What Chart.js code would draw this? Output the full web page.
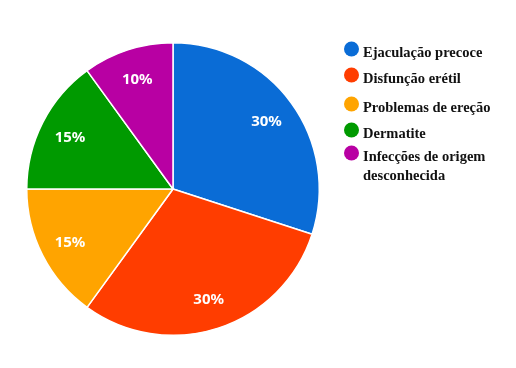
<!DOCTYPE html>
<html>
<head>
<meta charset="utf-8">
<script src="https://cdn.jsdelivr.net/npm/chart.js@4/dist/chart.umd.min.js"></script>
<style>
html,body{margin:0;padding:0;background:#fff;}
#wrap{width:516px;height:368px;position:relative;}
</style>
</head>
<body>
<div id="wrap"><canvas id="c" width="516" height="368"></canvas></div>
<script>
const categories = ["Ejaculação precoce", "Disfunção erétil", "Problemas de ereção", "Dermatite", "Infecções de origem desconhecida"];
const legendLines = [["Ejaculação precoce"], ["Disfunção erétil"], ["Problemas de ereção"], ["Dermatite"], ["Infecções de origem", "desconhecida"]];
const values = [30, 30, 15, 15, 10];
const colors = ["#0a6cd6", "#ff3d00", "#ffa400", "#009a00", "#b800a3"];

const labelPlugin = {
  id: 'sliceLabels',
  afterDatasetsDraw(chart) {
    const ctx = chart.ctx;
    const meta = chart.getDatasetMeta(0);
    const total = values.reduce((a, b) => a + b, 0);
    ctx.save();
    ctx.font = 'bold 15px "Noto Sans", "Open Sans", sans-serif';
    ctx.fillStyle = '#fff';
    ctx.textAlign = 'center';
    ctx.textBaseline = 'middle';
    meta.data.forEach((arc, i) => {
      const mid = (arc.startAngle + arc.endAngle) / 2;
      const r = arc.outerRadius * 0.79;
      const x = arc.x + Math.cos(mid) * r;
      const y = arc.y + Math.sin(mid) * r + 1;
      ctx.fillText(Math.round(values[i] / total * 100) + '%', x, y);
    });
    ctx.restore();
  }
};

const legendPlugin = {
  id: 'sideLegend',
  afterDraw(chart) {
    const ctx = chart.ctx;
    const ys = [49, 75, 104, 130, 153];
    ctx.save();
    ctx.font = 'bold 14.5px "Liberation Serif", "Times New Roman", serif';
    ctx.textBaseline = 'middle';
    ctx.textAlign = 'left';
    legendLines.forEach((lines, i) => {
      ctx.beginPath();
      ctx.fillStyle = colors[i];
      ctx.arc(351.5, ys[i], 7.5, 0, Math.PI * 2);
      ctx.fill();
      ctx.fillStyle = '#111';
      lines.forEach((t, j) => {
        ctx.fillText(t, 363, ys[i] + 4 + j * 19);
      });
    });
    ctx.restore();
  }
};

new Chart(document.getElementById('c'), {
  type: 'pie',
  data: {
    labels: categories,
    datasets: [{
      data: values,
      backgroundColor: colors,
      borderColor: '#ffffff',
      borderWidth: 1.5
    }]
  },
  options: {
    responsive: false,
    animation: false,
    layout: { padding: { left: 26, right: 196, top: 42, bottom: 32 } },
    plugins: { legend: { display: false }, tooltip: { enabled: false } }
  },
  plugins: [labelPlugin, legendPlugin]
});
</script>
</body>
</html>
